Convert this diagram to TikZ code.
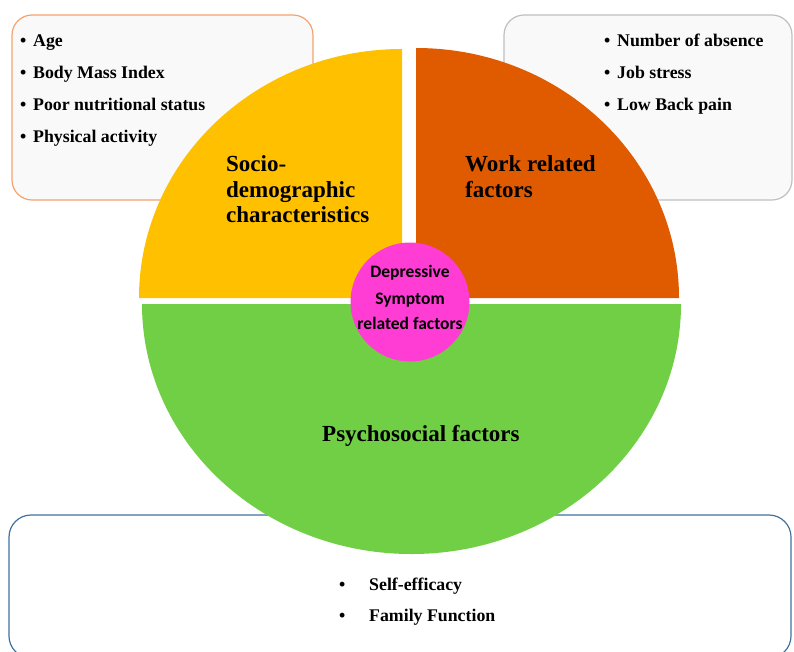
\documentclass[tikz,border=0pt]{standalone}
\usepackage{fontspec}
\setmainfont{Liberation Serif}
\newfontfamily\calib{Carlito}
\definecolor{yel}{RGB}{255,192,0}
\definecolor{ora}{RGB}{224,90,0}
\definecolor{grn}{RGB}{112,207,68}
\definecolor{mag}{RGB}{255,60,212}
\definecolor{boxfill}{RGB}{249,249,249}
\definecolor{lborder}{RGB}{244,162,110}
\definecolor{rborder}{RGB}{191,191,191}
\definecolor{bborder}{RGB}{65,113,156}
\begin{document}
\begin{tikzpicture}[x=1pt,y=-1pt,
  item/.style={anchor=base west,inner sep=0pt,font=\fontsize{17.8}{20}\selectfont\bfseries},
  bul/.style={anchor=base west,inner sep=0pt,font=\fontsize{17.8}{20}\selectfont\bfseries},
  biglabel/.style={anchor=base west,inner sep=0pt,font=\fontsize{23}{25}\selectfont\bfseries},
  ctext/.style={anchor=base,inner sep=0pt,font=\calib\fontsize{17.5}{20}\selectfont\bfseries},
  panel/.style={rounded corners=20pt,line width=1.2pt}]
\useasboundingbox (0,0) rectangle (794,651);
\clip (0,0) rectangle (794,651);
% boxes
\draw[panel,draw=lborder,fill=boxfill] (12,15) rectangle (313,200);
\draw[panel,draw=rborder,fill=boxfill] (504,15) rectangle (792,200);
\draw[panel,draw=bborder,fill=white,rounded corners=22pt] (9,515) rectangle (791,658);
% pie
\fill[yel] (402,298) -- (139,298) arc[start angle=180,end angle=90,x radius=263pt,y radius=249pt] -- cycle;
\fill[ora] (416,298) -- (679,298) arc[start angle=0,end angle=90,x radius=263pt,y radius=250pt] -- cycle;
\fill[grn] (142,304) arc[start angle=180,end angle=360,x radius=269.5pt,y radius=250pt] -- cycle;
\node[circle,fill=mag,minimum size=119pt,inner sep=0pt] (ctr) at (410,302) {};
% centre text
\node[ctext] (c1) at (410,277) {Depressive};
\node[ctext] (c2) at (410,304) {Symptom};
\node[ctext] (c3) at (410,329) {related factors};
% big labels
\node[biglabel] (s1) at (226,171) {Socio-};
\node[biglabel] (s2) at (226,197) {demographic};
\node[biglabel] (s3) at (226,222) {characteristics};
\node[biglabel] (w1) at (465,171) {Work related};
\node[biglabel] (w2) at (465,197) {factors};
\node[biglabel] (p1) at (322,441) {Psychosocial factors};
% left items
\node[bul] (lb1) at (20,46) {•}; \node[item] (l1) at (33,46) {Age};
\node[bul] (lb2) at (20,78) {•}; \node[item] (l2) at (33,78) {Body Mass Index};
\node[bul] (lb3) at (20,110) {•}; \node[item] (l3) at (33,110) {Poor nutritional status};
\node[bul] (lb4) at (20,142) {•}; \node[item] (l4) at (33,142) {Physical activity};
% right items
\node[bul] (rb1) at (604,46.5) {•}; \node[item] (r1) at (617,46.5) {Number of absence};
\node[bul] (rb2) at (604,78) {•}; \node[item] (r2) at (617,78) {Job stress};
\node[bul] (rb3) at (604,110) {•}; \node[item] (r3) at (617,110) {Low Back pain};
% bottom items
\node[bul] (bb1) at (339,590) {•}; \node[item] (b1) at (369,590) {Self-efficacy};
\node[bul] (bb2) at (339,621) {•}; \node[item] (b2) at (369,621) {Family Function};
\end{tikzpicture}
\end{document}
